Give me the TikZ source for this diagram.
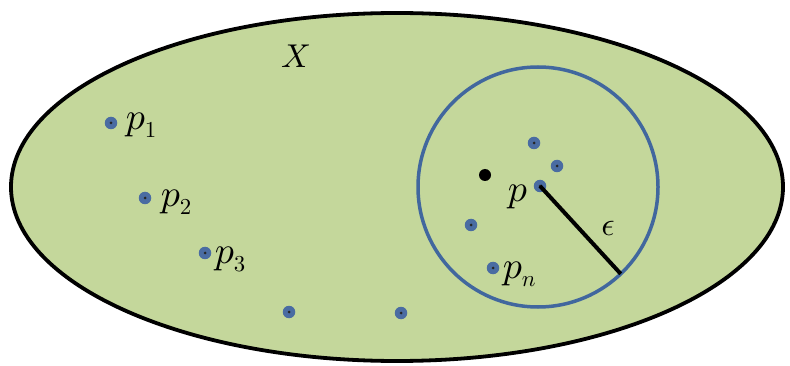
\documentclass[tikz,border=0pt]{standalone}
\definecolor{fillgreen}{HTML}{C4D79B}
\definecolor{circblue}{HTML}{41679E}
\definecolor{dotblue}{HTML}{4A6CA2}
\newcommand\mysubsc[1]{\raisebox{-0.2em}{\scalebox{0.6}{$#1$}}}
\begin{document}
\begin{tikzpicture}[x=1pt,y=-1pt,
  dotpt/.style={circle,fill=dotblue,inner sep=0pt,minimum size=12.5pt,
    path picture={\fill[black!85] (path picture bounding box.center) circle (1.5pt);}},
  blackpt/.style={circle,fill=black,inner sep=0pt,minimum size=12pt},
  lbl/.style={font=\normalsize,scale=3.8,inner sep=0pt,anchor=base west},
  xlbl/.style={font=\normalsize,scale=3.3,inner sep=0pt,anchor=base}]
\useasboundingbox (0,0) rectangle (790,366);
\coordinate (ctr) at (397,187);
\draw[line width=3.8pt,fill=fillgreen] (ctr) ellipse [x radius=386pt,y radius=174pt];
\coordinate (bc) at (538,187);
\draw[circblue,line width=3.5pt] (bc) circle (120pt);
\node[dotpt] (p) at (540,186) {};
\coordinate (edge) at ([shift={(-46.4:120pt)}]bc);
\draw[line width=4pt] (p.center) -- (edge);
\node[dotpt] (q1) at (534,143) {};
\node[dotpt] (q2) at (557,166) {};
\node[blackpt] (q0) at (485,175) {};
\node[dotpt] (q3) at (471,225) {};
\node[dotpt] (pn) at (493,268) {};
\node[dotpt] (p1) at (111,123) {};
\node[dotpt] (p2) at (145,198) {};
\node[dotpt] (p3) at (205,253) {};
\node[dotpt] (b1) at (289,312) {};
\node[dotpt] (b2) at (401,313) {};
\node[xlbl] (lX) at (296,68) {$X$};
\node[lbl] (l1) at (125,130) {$p$\mysubsc{1}};
\node[lbl] (l2) at (160,207) {$p$\mysubsc{2}};
\node[lbl] (l3) at (214,264) {$p$\mysubsc{3}};
\node[lbl] (lp) at (507,202) {$p$};
\node[lbl] (ln) at (502,279) {$p$\mysubsc{n}};
\node[xlbl] (le) at (608,236) {$\epsilon$};
\end{tikzpicture}
\end{document}
